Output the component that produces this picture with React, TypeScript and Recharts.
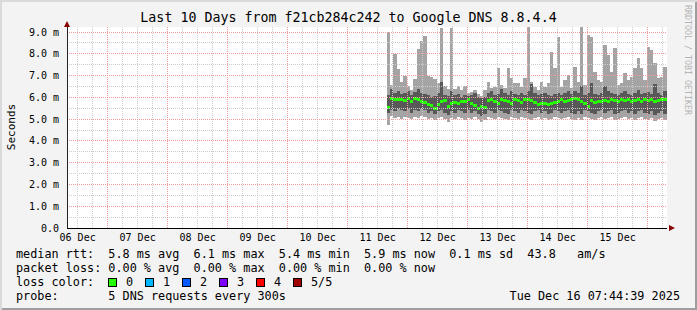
import { ComposedChart, Area, XAxis, YAxis, ReferenceLine, ReferenceArea } from "recharts";

const TITLE = "Last 10 Days from f21cb284c242 to Google DNS 8.8.4.4";
const START = Date.UTC(2025, 11, 6, 7, 44, 39);
const END = Date.UTC(2025, 11, 16, 7, 44, 39);
const FIRST_SAMPLE = Date.UTC(2025, 11, 11, 15, 40);
const STEP = 80 * 60 * 1000;
const HOUR = 3600 * 1000;
const Y_MAX = 9.23;

const dayLabels = ["06 Dec", "07 Dec", "08 Dec", "09 Dec", "10 Dec", "11 Dec", "12 Dec", "13 Dec", "14 Dec", "15 Dec"];
const yTicks = [0, 1, 2, 3, 4, 5, 6, 7, 8, 9];

// smoke: slowest / fastest of the 5 pings, and ping 2 / ping 4
const pingMax = [
  9.0, 6.55, 8.0, 7.3, 6.7, 7.0, 6.5, 6.35, 6.85, 8.2, 8.6, 8.8, 7.0, 6.95, 6.85, 6.65, 9.2, 6.5, 6.4, 9.2, 6.4, 6.5, 6.35, 6.5, 6.2, 6.25, 6.35, 6.15,
  6.05, 6.34, 6.72, 6.41, 6.49, 7.33, 6.56, 6.41, 7.33, 6.87, 6.64, 6.64, 6.49, 6.87, 9.24, 6.72, 6.49, 6.34, 6.72, 6.49, 6.64, 8.1, 7.33, 8.78, 6.49, 6.79, 7.03, 6.41, 7.41,
  6.72, 9.24, 6.56, 8.86, 8.78, 7.18, 6.79, 6.72, 8.4, 7.94, 7.18, 8.25, 6.56, 6.64, 7.1, 6.79, 6.95, 7.33, 7.79, 7.33, 6.79, 8.33, 8.17, 7.56, 6.87, 6.95, 7.41,
];
const pingHigh = [
  6.1, 6.4, 6.2, 6.3, 6.15, 6.2, 6.3, 6.1, 6.25, 6.4, 6.2, 6.15, 6.1, 6.0, 6.05, 6.2, 6.7, 6.1, 6.05, 6.3, 6.1, 6.15, 6.0, 6.1, 6.05, 6.1, 6.2, 6.0,
  5.95, 6.0, 6.2, 6.3, 6.1, 6.15, 6.4, 6.2, 6.1, 6.3, 6.15, 6.1, 6.2, 6.1, 6.3, 6.6, 6.2, 6.1, 6.15, 6.2, 6.1, 6.05, 6.15, 6.2, 6.1, 6.2, 6.3, 6.15, 6.3,
  6.2, 6.5, 6.1, 6.2, 6.65, 6.15, 6.1, 6.2, 6.5, 6.3, 6.2, 6.15, 6.1, 6.2, 6.3, 6.15, 6.1, 6.2, 6.35, 6.15, 6.2, 6.25, 6.15, 6.6, 6.2, 6.1, 6.3,
];
const pingLow = [
  5.3, 5.4, 5.35, 5.45, 5.4, 5.35, 5.45, 5.3, 5.4, 5.35, 5.45, 5.4, 5.3, 5.35, 5.25, 5.35, 5.4, 5.3, 5.2, 5.35, 5.3, 5.4, 5.35, 5.3, 5.4, 5.3, 5.35, 5.25,
  5.15, 5.25, 5.4, 5.35, 5.3, 5.4, 5.35, 5.3, 5.25, 5.4, 5.35, 5.3, 5.4, 5.35, 5.3, 5.25, 5.35, 5.4, 5.3, 5.35, 5.25, 5.3, 5.4, 5.35, 5.3, 5.35, 5.4, 5.3, 5.25,
  5.35, 5.25, 5.4, 5.35, 5.3, 5.25, 5.35, 5.4, 5.3, 5.35, 5.4, 5.25, 5.3, 5.35, 5.4, 5.3, 5.35, 5.25, 5.35, 5.4, 5.3, 5.25, 5.35, 5.2, 5.3, 5.35, 5.25,
];
const pingMin = [
  4.75, 5.15, 5.05, 5.1, 5.0, 5.1, 5.05, 5.0, 5.1, 5.05, 5.15, 5.1, 5.0, 5.05, 4.95, 5.05, 5.1, 5.0, 4.85, 5.05, 5.0, 5.1, 5.05, 4.95, 5.05, 5.0, 5.1, 5.0,
  4.85, 4.95, 5.1, 5.05, 5.0, 5.1, 5.05, 5.0, 4.95, 5.1, 5.05, 5.0, 5.1, 5.05, 5.0, 4.95, 5.05, 5.1, 5.0, 5.05, 4.95, 5.0, 5.1, 5.05, 5.0, 5.05, 5.1, 5.0, 4.95,
  5.05, 4.95, 5.1, 5.05, 5.0, 4.95, 5.05, 5.1, 5.0, 5.05, 5.1, 4.95, 5.0, 5.05, 5.1, 5.0, 5.05, 4.95, 5.05, 5.1, 5.0, 4.95, 5.05, 4.9, 5.0, 5.05, 4.95,
];
const medianRtt = [
  5.55, 5.95, 5.9, 5.88, 5.88, 5.85, 5.95, 5.82, 5.95, 5.92, 5.8, 5.75, 5.65, 5.62, 5.5, 5.68, 5.8, 5.85, 5.57, 5.72, 5.75, 5.7, 5.83, 5.8, 5.9, 5.7, 5.62, 5.5,
  5.6, 5.55, 5.85, 5.9, 5.8, 5.7, 5.9, 5.85, 5.8, 5.72, 5.92, 5.85, 5.78, 5.88, 5.9, 5.85, 5.75, 5.68, 5.72, 5.7, 5.65, 5.7, 5.75, 5.82, 5.88, 5.8, 5.85, 5.9, 5.95,
  5.88, 5.82, 5.7, 5.6, 5.85, 5.78, 5.82, 5.8, 5.85, 5.82, 5.88, 5.85, 5.8, 5.9, 5.85, 5.88, 5.82, 5.86, 5.9, 5.83, 5.88, 5.85, 5.9, 5.82, 5.86, 5.9, 5.88,
];

const lossColors = [
  { label: "0", color: "#26ff00" },
  { label: "1", color: "#00b8ff" },
  { label: "2", color: "#0059ff" },
  { label: "3", color: "#7e00ff" },
  { label: "4", color: "#ff0000" },
  { label: "5/5", color: "#a10000" },
];

const MED_HALF = 0.07;
const MONO = "'DejaVu Sans Mono', monospace";

const rows = medianRtt.map((m, i) => ({
  t: FIRST_SAMPLE + i * STEP,
  base: pingMin[i],
  lo: pingLow[i] - pingMin[i],
  mid: pingHigh[i] - pingLow[i],
  hi: pingMax[i] - pingHigh[i],
  medBase: m - MED_HALF,
  med: MED_HALF * 2,
}));
// last sample holds until the end of the graph
rows.push({ ...rows[rows.length - 1], t: END });

const dayTicks = dayLabels.map((_, i) => Date.UTC(2025, 11, 6 + i, 12));
const minorX: number[] = [];
const majorX: number[] = [];
for (let t = Date.UTC(2025, 11, 6, 12); t < END; t += 6 * HOUR) {
  if (new Date(t).getUTCHours() === 0) majorX.push(t);
  else minorX.push(t);
}
const minorY = yTicks.map((v) => v + 0.5).filter((v) => v < Y_MAX);
const majorY = yTicks.filter((v) => v > 0);

const fmtDay = (t: number) => {
  const i = dayTicks.indexOf(t);
  return i >= 0 ? dayLabels[i] : "";
};

const line = (top: number, text: string) => (
  <div
    style={{
      position: "absolute",
      left: 16,
      top,
      height: 14,
      lineHeight: "14px",
      fontFamily: MONO,
      fontSize: 11.8,
      whiteSpace: "pre",
      color: "#000",
    }}
  >
    {text}
  </div>
);

const smoke = { type: "stepAfter" as const, stroke: "none", fillOpacity: 1, isAnimationActive: false, activeDot: false, shapeRendering: "crispEdges" };

export default function App() {
  return (
    <div
      style={{
        position: "fixed",
        left: 0,
        top: 0,
        width: 697,
        height: 310,
        background: "#f3f3f3",
        boxShadow: "inset 2px 2px 0 #dadada, inset -2px -2px 0 #9e9e9e",
        overflow: "hidden",
      }}
    >
      <div
        style={{
          position: "absolute",
          left: 0,
          width: 697,
          top: 10,
          textAlign: "center",
          fontFamily: MONO,
          fontSize: 13.3,
          lineHeight: "16px",
          color: "#000",
        }}
      >
        {TITLE}
      </div>
      <div
        style={{
          position: "absolute",
          left: 11,
          top: 127,
          transform: "translate(-50%, -50%) rotate(-90deg)",
          fontFamily: MONO,
          fontSize: 11,
          whiteSpace: "nowrap",
          color: "#000",
        }}
      >
        Seconds
      </div>
      <div
        style={{
          position: "absolute",
          left: 688,
          top: 60,
          transform: "translate(-50%, -50%) rotate(90deg)",
          fontFamily: MONO,
          fontSize: 8.3,
          whiteSpace: "nowrap",
          color: "#b4b4b4",
        }}
      >
        RRDTOOL / TOBI OETIKER
      </div>
      <div style={{ position: "absolute", left: 0, top: 0 }}>
        <ComposedChart width={697} height={310} data={rows} margin={{ top: 27, right: 30, bottom: 0, left: 0 }}>
          <ReferenceArea x1={START} x2={END} y1={0} y2={Y_MAX} fill="#ffffff" fillOpacity={1} stroke="none" />
          {minorY.map((v) => (
            <ReferenceLine key={`my${v}`} y={v} stroke="#cdcdcd" strokeDasharray="1 1" shapeRendering="crispEdges" />
          ))}
          {minorX.map((t) => (
            <ReferenceLine key={`mx${t}`} x={t} stroke="#cdcdcd" strokeDasharray="1 1" shapeRendering="crispEdges" />
          ))}
          {majorY.map((v) => (
            <ReferenceLine key={`My${v}`} y={v} stroke="#f49a9a" strokeDasharray="1 1" shapeRendering="crispEdges" />
          ))}
          {majorX.map((t) => (
            <ReferenceLine key={`Mx${t}`} x={t} stroke="#f49a9a" strokeDasharray="1 1" shapeRendering="crispEdges" />
          ))}
          <XAxis
            type="number"
            dataKey="t"
            domain={[START, END]}
            ticks={dayTicks}
            interval={0}
            tickFormatter={fmtDay}
            tickLine={false}
            tickSize={4}
            tickMargin={2}
            height={82}
            axisLine={{ stroke: "#000", shapeRendering: "crispEdges" }}
            tick={{ fill: "#000", fontSize: 10, fontFamily: MONO }}
            allowDataOverflow
          />
          <YAxis
            type="number"
            domain={[0, Y_MAX]}
            ticks={yTicks}
            interval={0}
            tickFormatter={(v: number) => (v === 0 ? "0.0" : `${v.toFixed(1)} m`)}
            tickLine={false}
            width={67}
            axisLine={{ stroke: "#222", shapeRendering: "crispEdges" }}
            tick={{ fill: "#000", fontSize: 10, fontFamily: MONO }}
            allowDataOverflow
          />
          <Area {...smoke} dataKey="base" stackId="smoke" fill="none" />
          <Area {...smoke} dataKey="lo" stackId="smoke" fill="#a4a4a4" />
          <Area {...smoke} dataKey="mid" stackId="smoke" fill="#585858" />
          <Area {...smoke} dataKey="hi" stackId="smoke" fill="#a4a4a4" />
          <Area {...smoke} dataKey="medBase" stackId="median" fill="none" />
          <Area {...smoke} dataKey="med" stackId="median" fill="#26ff00" />
        </ComposedChart>
      </div>
      <svg style={{ position: "absolute", left: 0, top: 0 }} width={697} height={310}>
        <polygon points="67,21 64,27 70,27" fill="#8b0000" />
        <polygon points="675,228 669,225 669,231" fill="#8b0000" />
      </svg>
      {line(247, "median rtt:  5.8 ms avg  6.1 ms max  5.4 ms min  5.9 ms now  0.1 ms sd  43.8   am/s")}
      {line(261, "packet loss: 0.00 % avg  0.00 % max  0.00 % min  0.00 % now")}
      {line(275, "loss color:")}
      {lossColors.map((c, i) => (
        <div key={c.label}>
          <div
            style={{
              position: "absolute",
              left: 108 + i * 37,
              top: 278,
              width: 7,
              height: 7,
              background: c.color,
              border: "1px solid #000",
            }}
          />
          <div
            style={{
              position: "absolute",
              left: 126 + i * 37,
              top: 275,
              lineHeight: "14px",
              fontFamily: MONO,
              fontSize: 11.8,
              whiteSpace: "pre",
            }}
          >
            {c.label}
          </div>
        </div>
      ))}
      {line(289, "probe:       5 DNS requests every 300s")}
      <div
        style={{
          position: "absolute",
          right: 17,
          top: 289,
          lineHeight: "14px",
          fontFamily: MONO,
          fontSize: 11.8,
          whiteSpace: "pre",
        }}
      >
        Tue Dec 16 07:44:39 2025
      </div>
    </div>
  );
}
